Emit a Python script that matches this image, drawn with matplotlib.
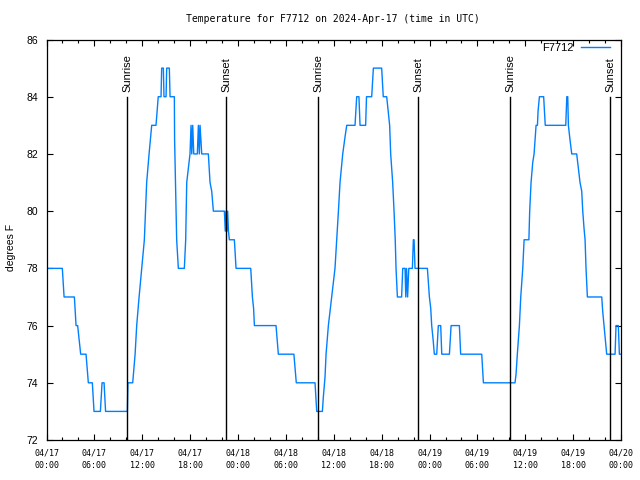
import matplotlib
matplotlib.use('Agg')
import matplotlib.pyplot as plt
from matplotlib.ticker import MultipleLocator

# hours since 04/17 00:00 UTC and temperature (degrees F)
hours = [0, 1.98, 2.2, 3.49, 3.7, 3.9, 4.28, 4.95, 5.24, 5.74, 5.95, 6.75, 6.96, 7.21, 7.4,
         10.13, 10.2, 10.8, 11.1, 11.3, 11.6, 11.93, 12.26, 12.4, 12.55, 12.85, 13.18, 13.72,
         14.0, 14.35, 14.43, 14.64, 14.72, 14.98, 15.06, 15.39, 15.48, 16.02, 16.05, 16.31,
         16.52, 17.27, 17.44, 17.57, 17.78, 17.98, 18.11, 18.2, 18.32, 18.45, 18.9, 19.03,
         19.15, 19.24, 19.45, 20.28, 20.49, 20.7, 20.91, 22.29, 22.4, 22.5, 22.6, 22.7, 22.8,
         22.91, 23.54, 23.75, 25.59, 25.8, 25.95, 26.05, 28.76, 29.05, 31.0, 31.3, 33.65,
         33.86, 34.57, 34.69, 34.9, 35.03, 35.32, 35.74, 36.15, 36.37, 36.58, 36.78, 37.12,
         37.41, 37.62, 38.66, 38.87, 39.15, 39.29, 39.99, 40.1, 40.75, 40.96, 42.0, 42.2,
         42.63, 43.0, 43.13, 43.38, 43.55, 43.7, 43.8, 43.97, 44.5, 44.64, 44.93, 45.02,
         45.12, 45.25, 45.4, 45.85, 45.97, 46.06, 46.18, 47.73, 47.98, 48.15, 48.27, 48.45,
         48.6, 48.9, 49.1, 49.4, 49.53, 50.49, 50.7, 51.74, 51.9, 54.54, 54.75, 58.71, 58.84,
         59.0, 59.26, 59.43, 59.68, 59.85, 60.45, 60.55, 60.72, 60.93, 61.1, 61.35, 61.52,
         61.6, 61.77, 62.3, 62.5, 65.07, 65.2, 65.32, 65.4, 65.6, 65.82, 66.44, 66.65, 66.86,
         67.07, 67.2, 67.36, 67.49, 67.61, 67.78, 69.58, 69.7, 69.87, 70.0, 70.2, 71.25,
         71.37, 71.66, 71.79, 71.9]
temps = [78, 78, 77, 77, 76, 76, 75, 75, 74, 74, 73, 73, 74, 74, 73,
         73, 74, 74, 75, 76, 77, 78, 79, 80, 81, 82, 83, 83,
         84, 84, 85, 85, 84, 84, 85, 85, 84, 84, 82.5, 79,
         78, 78, 79, 81, 81.5, 82, 83, 82, 83, 82, 82, 83,
         82, 83, 82, 82, 81, 80.7, 80, 80, 79.3, 80, 79.3, 80, 79.3,
         79, 79, 78, 78, 77, 76.6, 76, 76, 75, 75, 74, 74,
         73, 73, 73.5, 74.2, 75, 76, 77, 78, 79, 80, 81, 82,
         82.6, 83, 83, 84, 84, 83, 83, 84, 84, 85, 85, 84,
         84, 83, 82, 81, 80, 79, 78, 77, 77, 78, 78, 77,
         78, 77, 78, 78, 79, 79, 78, 78, 77, 76.6, 76, 75.5,
         75, 75, 76, 76, 75, 75, 76, 76, 75, 75, 74, 74, 74.3,
         75, 76, 77, 78, 79, 79, 80, 81, 81.7, 82, 83, 83,
         83.5, 84, 84, 83, 83, 84, 84, 83, 82.5, 82, 82, 81.5, 81,
         80.7, 80, 79.4, 79, 78, 77, 77, 76.5, 76, 75.6, 75, 75,
         76, 76, 75, 75]

sunrise = [10.13, 34.06, 58.13]
sunset = [22.53, 46.60, 70.66]

xticks = [0, 6, 12, 18, 24, 30, 36, 42, 48, 54, 60, 66, 72]
xtick_labels = ['04/17\n00:00', '04/17\n06:00', '04/17\n12:00', '04/17\n18:00',
                '04/18\n00:00', '04/18\n06:00', '04/18\n12:00', '04/18\n18:00',
                '04/19\n00:00', '04/19\n06:00', '04/19\n12:00', '04/19\n18:00',
                '04/20\n00:00']
yticks = [72, 74, 76, 78, 80, 82, 84, 86]

fig = plt.figure(figsize=(6.4, 4.8), dpi=100)
ax = fig.add_axes([0.0727, 0.0833, 0.8977, 0.8344])

ax.plot(hours, temps, color='#0080ff', lw=1.0, label='F7712')

for h in sunrise:
    ax.plot([h, h], [72, 84], color='black', lw=1.0)
    ax.text(h, 84.15, 'Sunrise', rotation=90, ha='center', va='bottom',
            family='Liberation Sans', fontsize=8)
for h in sunset:
    ax.plot([h, h], [72, 84], color='black', lw=1.0)
    ax.text(h, 84.15, 'Sunset', rotation=90, ha='center', va='bottom',
            family='Liberation Sans', fontsize=8)

ax.set_xlim(0, 72)
ax.set_ylim(72, 86)
ax.set_xticks(xticks)
ax.set_xticklabels(xtick_labels, family='DejaVu Sans Mono', fontsize=6, linespacing=1.55)
ax.xaxis.set_minor_locator(MultipleLocator(2))
ax.set_yticks(yticks)
ax.set_yticklabels([str(v) for v in yticks], family='Liberation Sans', fontsize=7.5)

ax.tick_params(which='major', direction='in', top=True, right=True, length=4, width=0.8)
ax.tick_params(which='minor', direction='in', top=True, right=True, length=2.2, width=0.8)
ax.tick_params(axis='x', pad=6)
ax.tick_params(axis='y', pad=6)
for s in ax.spines.values():
    s.set_linewidth(0.9)

fig.text(0.5203, 1 - 19 / 480, 'Temperature for F7712 on 2024-Apr-17 (time in UTC)',
         ha='center', va='center', family='DejaVu Sans Mono', fontsize=7)
fig.text(0.017, 0.484, 'degrees F', rotation=90, ha='center', va='center',
         family='Liberation Sans', fontsize=7.5)

ax.legend(loc='upper right', bbox_to_anchor=(0.981, 0.991), frameon=False,
          markerfirst=False, handlelength=2.6, handletextpad=0.7, borderpad=0,
          borderaxespad=0, prop={'family': 'Liberation Sans', 'size': 8})

fig.savefig('out.png', dpi=100)
